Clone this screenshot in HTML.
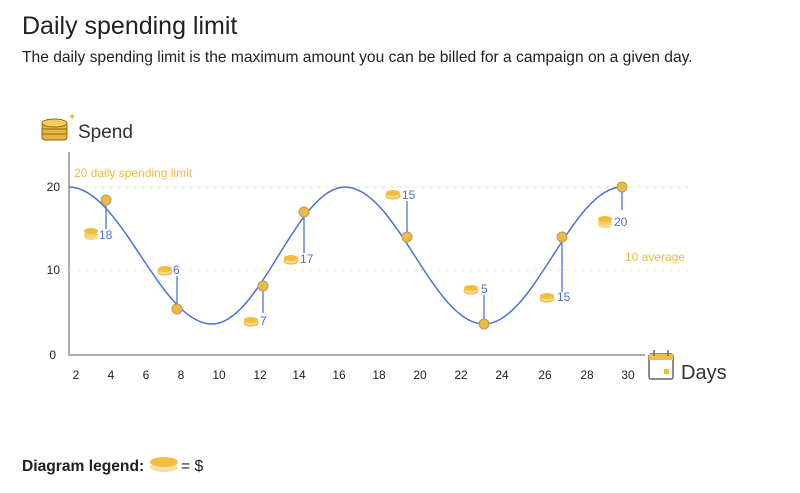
<!DOCTYPE html>
<html><head><meta charset="utf-8"><style>
body{margin:0;background:#fff;width:800px;height:488px;overflow:hidden;font-family:"Liberation Sans",Arial,sans-serif;color:#202124}
</style></head><body>
<svg width="800" height="488" xmlns="http://www.w3.org/2000/svg" font-family="Liberation Sans, Arial, sans-serif">
<defs>
<g id="coin"><ellipse cx="0" cy="3" rx="7" ry="3" fill="#f7d98a" stroke="#eab83a" stroke-width="1"/><ellipse cx="0" cy="0" rx="7" ry="3" fill="#f0bd3f"/></g>
<g id="stack"><ellipse cx="0" cy="6" rx="7" ry="3" fill="#f7d98a"/><ellipse cx="0" cy="3" rx="7" ry="3" fill="#f5cf6a"/><ellipse cx="0" cy="0" rx="7" ry="3" fill="#f0bd3f"/></g>
</defs>
<text x="22" y="34" font-size="25" fill="#202124">Daily spending limit</text>
<text x="22" y="62" font-size="15.6" fill="#202124">The daily spending limit is the maximum amount you can be billed for a campaign on a given day.</text>
<!-- spend icon -->
<rect x="42" y="123" width="25" height="17" rx="3" fill="#e7b440" stroke="#8a6a10" stroke-width="1"/>
<ellipse cx="54.5" cy="123" rx="12.5" ry="4" fill="#f3cd62" stroke="#8a6a10" stroke-width="1"/>
<line x1="42" y1="129" x2="67" y2="129" stroke="#8a6a10"/><line x1="42" y1="134" x2="67" y2="134" stroke="#8a6a10"/>
<text x="68" y="120" font-size="10" fill="#f0b93a">✦</text>
<text x="78" y="138" font-size="19" fill="#333">Spend</text>
<!-- axes -->
<line x1="69" y1="152" x2="69" y2="356" stroke="#aaa" stroke-width="2"/>
<line x1="68" y1="355" x2="645" y2="355" stroke="#aaa" stroke-width="2"/>
<g font-size="12" fill="#202124" text-anchor="end"><text x="60" y="191">20</text><text x="60" y="274">10</text><text x="56" y="359">0</text></g>
<g font-size="12" fill="#202124" text-anchor="middle">
<text x="76" y="379">2</text><text x="111" y="379">4</text><text x="146" y="379">6</text><text x="181" y="379">8</text><text x="219" y="379">10</text><text x="260" y="379">12</text><text x="299" y="379">14</text><text x="339" y="379">16</text><text x="379" y="379">18</text><text x="420" y="379">20</text><text x="461" y="379">22</text><text x="502" y="379">24</text><text x="545" y="379">26</text><text x="587" y="379">28</text><text x="628" y="379">30</text></g>
<!-- days icon -->
<rect x="649" y="354" width="24" height="25" rx="2" fill="#fff" stroke="#666" stroke-width="1.5"/>
<rect x="649" y="354" width="24" height="6" fill="#f0bd3f"/>
<line x1="654" y1="350" x2="654" y2="356" stroke="#666" stroke-width="1.5"/><line x1="668" y1="350" x2="668" y2="356" stroke="#666" stroke-width="1.5"/>
<rect x="664" y="369" width="5" height="5" fill="#f0bd3f"/>
<text x="681" y="379" font-size="20" fill="#333">Days</text>
<!-- ref lines -->
<line x1="69" y1="187" x2="688" y2="187" stroke="#f6e3b0" stroke-dasharray="4,4"/>
<line x1="69" y1="270" x2="688" y2="270" stroke="#f6e3b0" stroke-dasharray="4,4"/>
<text x="74" y="177" font-size="12" fill="#f0b93a">20 daily spending limit</text>
<text x="625" y="261" font-size="12" fill="#f0b93a">10 average</text>
<!-- curve -->
<path d="M69,187 C121,187 160,324 212,324 C260,324 297,187 345,187 C396,187 433,324 484,324 C534,324 572,187 622,187" fill="none" stroke="#4a72d6" stroke-width="1.5"/>
<g stroke="#4a72d6" stroke-width="1.3">
<line x1="106" y1="200" x2="106" y2="229"/><line x1="177" y1="309" x2="177" y2="276"/><line x1="263" y1="286" x2="263" y2="313"/><line x1="304" y1="212" x2="304" y2="253"/><line x1="407" y1="237" x2="407" y2="201"/><line x1="484" y1="324" x2="484" y2="295"/><line x1="562" y1="237" x2="562" y2="292"/><line x1="622" y1="187" x2="622" y2="210"/></g>
<g fill="#ebbb45" stroke="#b59a5a" stroke-width="1">
<circle cx="106" cy="200" r="5"/><circle cx="177" cy="309" r="5"/><circle cx="263" cy="286" r="5"/><circle cx="304" cy="212" r="5"/><circle cx="407" cy="237" r="5"/><circle cx="484" cy="324" r="5"/><circle cx="562" cy="237" r="5"/><circle cx="622" cy="187" r="5"/></g>
<use href="#stack" x="91" y="231"/><use href="#coin" x="165" y="269"/><use href="#coin" x="251" y="320"/><use href="#coin" x="291" y="258"/><use href="#coin" x="393" y="193"/><use href="#coin" x="471" y="288"/><use href="#coin" x="547" y="296"/><use href="#stack" x="605" y="219"/>
<g font-size="12" fill="#4a72d6">
<text x="99" y="239">18</text><text x="173" y="274">6</text><text x="260" y="325">7</text><text x="300" y="263">17</text><text x="402" y="199">15</text><text x="481" y="293">5</text><text x="557" y="301">15</text><text x="614" y="226">20</text></g>
<!-- legend -->
<text x="22" y="471" font-size="15.6" font-weight="bold" fill="#202124">Diagram legend:</text>
<ellipse cx="164" cy="467" rx="14" ry="5" fill="#f7e0a0"/>
<ellipse cx="164" cy="462" rx="14" ry="5" fill="#f0bd3f"/>
<text x="181" y="471" font-size="15.6" fill="#202124">= $</text>
</svg>
</body></html>
